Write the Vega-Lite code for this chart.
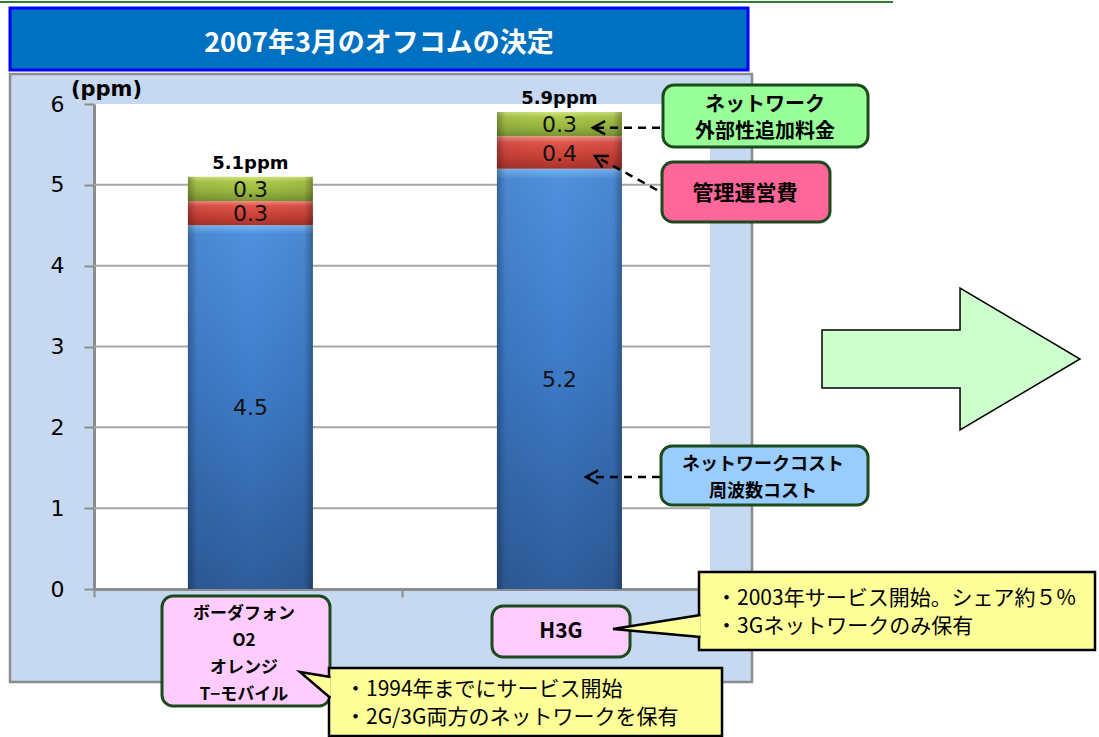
{
  "$schema": "https://vega.github.io/schema/vega-lite/v6.json",
  "width": 616,
  "height": 485,
  "autosize": {"type": "none"},
  "padding": {"left": 94, "top": 104, "right": 389, "bottom": 148},
  "background": "#C6D9F0",
  "config": {
    "view": {"stroke": null, "fill": "#FFFFFF"},
    "axis": {"grid": false},
    "locale": {"number": {"decimal": ".", "thousands": ",", "grouping": [3], "currency": ["", "ppm"]}}
  },
  "resolve": {"scale": {"x": "independent"}},
  "layer": [
    {
      "layer": [
        {
          "data": {"values": [{"x": 0, "x2": 2, "y": 0, "y2": 6}]},
          "mark": {"type": "rect", "fill": "#FFFFFF", "opacity": 0},
          "encoding": {
            "x": {
              "field": "x", "type": "quantitative", "scale": {"domain": [0, 2]},
              "axis": {"orient": "bottom", "values": [0, 1, 2], "labels": false, "title": null, "tickSize": 8, "tickColor": "#8C8C8C", "tickWidth": 2, "domainColor": "#8C8C8C", "domainWidth": 3, "grid": false}
            },
            "x2": {"field": "x2"},
            "y": {
              "field": "y", "type": "quantitative", "scale": {"domain": [0, 6]},
              "axis": {
                "title": "(ppm)", "titleAngle": 0, "titleX": 12, "titleY": -9, "titleAlign": "center", "titleBaseline": "alphabetic",
                "titleFont": "DejaVu Sans", "titleFontSize": 21, "titleFontWeight": "bold", "titleColor": "#000000",
                "values": [0, 1, 2, 3, 4, 5, 6], "format": "d", "labelFont": "DejaVu Sans", "labelFontSize": 22, "labelColor": "#000000", "labelPadding": 20,
                "tickSize": 10, "tickColor": "#8C8C8C", "tickWidth": 2, "domainColor": "#8C8C8C", "domainWidth": 3, "grid": false
              }
            },
            "y2": {"field": "y2"}
          }
        },
        {
          "data": {"values": [
            {"x": -0.3052, "x2": 3.263, "y": 7.2866, "y2": 6.3711},
            {"x": 2.1364, "x2": 3.263, "y": 7.2866, "y2": -1.8309},
            {"x": -0.3052, "x2": 3.263, "y": -1.1505, "y2": -1.8309},
            {"x": -0.3052, "x2": -0.2727, "y": 7.2866, "y2": -1.8309}
          ]},
          "mark": {"type": "rect", "fill": "#FFFFFF"},
          "encoding": {
            "x": {"field": "x", "type": "quantitative", "scale": {"domain": [0, 2]}},
            "x2": {"field": "x2"},
            "y": {"field": "y", "type": "quantitative", "scale": {"domain": [0, 6]}},
            "y2": {"field": "y2"}
          }
        },
        {
          "data": {"values": [{"x": -0.3052, "x2": 2.5942, "y": 7.262}]},
          "mark": {"type": "rule", "stroke": "#2E7D32", "strokeWidth": 2},
          "encoding": {
            "x": {"field": "x", "type": "quantitative", "scale": {"domain": [0, 2]}},
            "x2": {"field": "x2"},
            "y": {"field": "y", "type": "quantitative", "scale": {"domain": [0, 6]}}
          }
        },
        {
          "data": {"values": [{"x": -0.2727, "x2": 2.1234, "y": 7.1876, "y2": 6.4206}]},
          "mark": {"type": "rect", "fill": "#0070C0", "stroke": "#0000FF", "strokeWidth": 3},
          "encoding": {
            "x": {"field": "x", "type": "quantitative", "scale": {"domain": [0, 2]}},
            "x2": {"field": "x2"},
            "y": {"field": "y", "type": "quantitative", "scale": {"domain": [0, 6]}},
            "y2": {"field": "y2"}
          }
        },
        {
          "data": {"values": [{"x": 0.9253, "y": 6.7423, "t": "2007年3月のオフコムの決定"}]},
          "mark": {"type": "text", "font": "Noto Sans CJK JP", "fontSize": 27, "fontWeight": "bold", "color": "#FFFFFF", "align": "center", "baseline": "middle"},
          "encoding": {
            "x": {"field": "x", "type": "quantitative", "scale": {"domain": [0, 2]}},
            "y": {"field": "y", "type": "quantitative", "scale": {"domain": [0, 6]}},
            "text": {"field": "t"}
          }
        },
        {
          "data": {"values": [{"x": -0.2727, "x2": 2.1364, "y": 6.3711, "y2": -1.1505}]},
          "mark": {"type": "rect", "fill": "transparent", "stroke": "#8C8C8C", "strokeWidth": 2.5},
          "encoding": {
            "x": {"field": "x", "type": "quantitative", "scale": {"domain": [0, 2]}},
            "x2": {"field": "x2"},
            "y": {"field": "y", "type": "quantitative", "scale": {"domain": [0, 6]}},
            "y2": {"field": "y2"}
          }
        },
        {
          "data": {"values": [{"g": 1}, {"g": 2}, {"g": 3}, {"g": 4}, {"g": 5}]},
          "mark": {"type": "rule", "stroke": "#A6A6A6", "strokeWidth": 2},
          "encoding": {
            "y": {"field": "g", "type": "quantitative", "scale": {"domain": [0, 6]}},
            "x": {"datum": 0, "type": "quantitative", "scale": {"domain": [0, 2]}},
            "x2": {"datum": 2}
          }
        }
      ]
    },
    {
      "data": {"values": [
        {"operator": "ボーダフォン・O2・オレンジ・T−モバイル", "segment": "ネットワークコスト・周波数コスト", "value": 4.5},
        {"operator": "ボーダフォン・O2・オレンジ・T−モバイル", "segment": "管理運営費", "value": 0.3},
        {"operator": "ボーダフォン・O2・オレンジ・T−モバイル", "segment": "追加料金（ネットワーク外部性）", "value": 0.3},
        {"operator": "H3G", "segment": "ネットワークコスト・周波数コスト", "value": 5.2},
        {"operator": "H3G", "segment": "管理運営費", "value": 0.4},
        {"operator": "H3G", "segment": "追加料金（ネットワーク外部性）", "value": 0.3}
      ]},
      "encoding": {
        "x": {
          "field": "operator", "type": "nominal",
          "sort": ["ボーダフォン・O2・オレンジ・T−モバイル", "H3G"],
          "scale": {"paddingInner": 0.5955, "paddingOuter": 0.2945, "align": 0.516},
          "axis": null
        }
      },
      "layer": [
        {
          "mark": {"type": "bar"},
          "encoding": {
            "y": {"field": "value", "type": "quantitative", "stack": "zero", "scale": {"domain": [0, 6]}},
            "detail": {"field": "segment"},
            "order": {"field": "segment", "type": "ordinal", "sort": "ascending"},
            "fill": {
              "condition": [
                {"test": "datum.segment === '管理運営費'", "value": {"gradient": "linear", "x1": 0, "y1": 0, "x2": 0, "y2": 1, "stops": [{"offset": 0, "color": "#F49085"}, {"offset": 0.2, "color": "#E0544A"}, {"offset": 0.6, "color": "#CC4238"}, {"offset": 1, "color": "#A8342C"}]}},
                {"test": "datum.segment === '追加料金（ネットワーク外部性）'", "value": {"gradient": "linear", "x1": 0, "y1": 0, "x2": 0, "y2": 1, "stops": [{"offset": 0, "color": "#D2E67C"}, {"offset": 0.2, "color": "#AECB4E"}, {"offset": 0.6, "color": "#9AB840"}, {"offset": 1, "color": "#7A9534"}]}}
              ],
              "value": {"gradient": "linear", "x1": 0, "y1": 0, "x2": 0, "y2": 1, "stops": [{"offset": 0, "color": "#78B8F5"}, {"offset": 0.025, "color": "#4E90DD"}, {"offset": 0.45, "color": "#3E7CCA"}, {"offset": 1, "color": "#2E5D9B"}]}
            }
          }
        },
        {
          "mark": {"type": "bar", "fill": {"gradient": "linear", "x1": 0, "y1": 0, "x2": 1, "y2": 0, "stops": [{"offset": 0, "color": "rgba(0,0,0,0.30)"}, {"offset": 0.07, "color": "rgba(0,0,0,0.06)"}, {"offset": 0.5, "color": "rgba(0,0,0,0)"}, {"offset": 0.93, "color": "rgba(0,0,0,0.06)"}, {"offset": 1, "color": "rgba(0,0,0,0.32)"}]}},
          "encoding": {
            "y": {"field": "value", "type": "quantitative", "stack": "zero", "scale": {"domain": [0, 6]}},
            "detail": {"field": "segment"},
            "order": {"field": "segment", "type": "ordinal", "sort": "ascending"}
          }
        },
        {
          "mark": {"type": "text", "font": "DejaVu Sans", "fontSize": 22, "color": "#111111", "align": "center", "baseline": "middle", "dy": 1},
          "encoding": {
            "y": {"field": "value", "type": "quantitative", "stack": "zero", "bandPosition": 0.5, "scale": {"domain": [0, 6]}},
            "detail": {"field": "segment"},
            "order": {"field": "segment", "type": "ordinal", "sort": "ascending"},
            "text": {"field": "value", "type": "quantitative", "format": ".1f"}
          }
        },
        {
          "transform": [{"aggregate": [{"op": "sum", "field": "value", "as": "total"}], "groupby": ["operator"]}],
          "mark": {"type": "text", "font": "DejaVu Sans", "fontSize": 18, "fontWeight": "bold", "color": "#000000", "align": "center", "baseline": "alphabetic", "dy": -8},
          "encoding": {
            "y": {"field": "total", "type": "quantitative", "scale": {"domain": [0, 6]}},
            "text": {"field": "total", "type": "quantitative", "format": "$.1f"}
          }
        }
      ]
    },
    {
      "layer": [
        {
          "data": {"values": [
            {"x": 1.8377, "x2": 1.6201, "y": 5.7068, "y2": 5.7068},
            {"x": 1.8279, "x2": 1.6266, "y": 4.9361, "y2": 5.3567},
            {"x": 1.8377, "x2": 1.5974, "y": 1.3856, "y2": 1.3856}
          ]},
          "mark": {"type": "rule", "stroke": "#000000", "strokeWidth": 2.5, "strokeDash": [8, 6]},
          "encoding": {
            "x": {"field": "x", "type": "quantitative", "scale": {"domain": [0, 2]}, "axis": null},
            "x2": {"field": "x2"},
            "y": {"field": "y", "type": "quantitative", "scale": {"domain": [0, 6]}},
            "y2": {"field": "y2"}
          }
        },
        {
          "data": {"values": [{"x": 1.6201, "y": 5.7068}, {"x": 1.5974, "y": 1.3856}]},
          "mark": {"type": "point", "shape": "M 1.1 -0.6 L 0 0 L 1.1 0.6", "size": 484, "filled": false, "stroke": "#000000", "strokeWidth": 2.5, "opacity": 1},
          "encoding": {
            "x": {"field": "x", "type": "quantitative", "scale": {"domain": [0, 2]}, "axis": null},
            "y": {"field": "y", "type": "quantitative", "scale": {"domain": [0, 6]}}
          }
        },
        {
          "data": {"values": [{"x": 1.6266, "y": 5.3567}]},
          "mark": {"type": "point", "shape": "M 1.1 -0.6 L 0 0 L 1.1 0.6", "size": 484, "angle": 29, "filled": false, "stroke": "#000000", "strokeWidth": 2.5, "opacity": 1},
          "encoding": {
            "x": {"field": "x", "type": "quantitative", "scale": {"domain": [0, 2]}, "axis": null},
            "y": {"field": "y", "type": "quantitative", "scale": {"domain": [0, 6]}}
          }
        },
        {
          "data": {"values": [
            {"kind": "外部性追加料金", "x": 1.8474, "x2": 2.513, "y": 6.2351, "y2": 5.468},
            {"kind": "管理運営費", "x": 1.8442, "x2": 2.3896, "y": 5.2825, "y2": 4.5402},
            {"kind": "ネットワークコスト", "x": 1.8409, "x2": 2.513, "y": 1.7691, "y2": 1.0392},
            {"kind": "事業者", "x": 0.2208, "x2": 0.7662, "y": -0.0866, "y2": -1.4474},
            {"kind": "事業者", "x": 1.2922, "x2": 1.7403, "y": -0.2103, "y2": -0.8412}
          ]},
          "mark": {"type": "rect", "cornerRadius": 11, "stroke": "#1D4A1D", "strokeWidth": 3},
          "encoding": {
            "x": {"field": "x", "type": "quantitative", "scale": {"domain": [0, 2]}, "axis": null},
            "x2": {"field": "x2"},
            "y": {"field": "y", "type": "quantitative", "scale": {"domain": [0, 6]}},
            "y2": {"field": "y2"},
            "fill": {
              "field": "kind", "type": "nominal", "legend": null,
              "scale": {"domain": ["外部性追加料金", "管理運営費", "ネットワークコスト", "事業者"], "range": ["#99FF99", "#FF6699", "#99CCFF", "#FFCCFF"]}
            }
          }
        },
        {
          "data": {"values": [
            {"t": "ネットワーク\n外部性追加料金", "x": 2.1786, "y": 5.9938},
            {"t": "管理運営費", "x": 2.1136, "y": 4.8866},
            {"t": "ネットワークコスト\n周波数コスト", "x": 2.1721, "y": 1.534},
            {"t": "ボーダフォン\nO2\nオレンジ\nT−モバイル", "x": 0.487, "y": -0.3093},
            {"t": "H3G", "x": 1.5162, "y": -0.532}
          ]},
          "mark": {"type": "text", "font": "Noto Sans CJK JP", "fontWeight": "bold", "color": "#000000", "align": "center", "baseline": "middle", "lineBreak": "\n", "lineHeight": 27},
          "encoding": {
            "x": {"field": "x", "type": "quantitative", "scale": {"domain": [0, 2]}, "axis": null},
            "y": {"field": "y", "type": "quantitative", "scale": {"domain": [0, 6]}},
            "text": {"field": "t"},
            "size": {"condition": [{"test": "datum.t === '管理運営費'", "value": 21}, {"test": "datum.t === 'H3G'", "value": 21}, {"test": "datum.x < 1", "value": 17}, {"test": "datum.y > 5", "value": 20}], "value": 18}
          }
        },
        {
          "data": {"values": [
            {"x": 1.9643, "x2": 3.25, "y": 0.2103, "y2": -0.7546},
            {"x": 0.763, "x2": 2.039, "y": -0.9773, "y2": -1.8186}
          ]},
          "mark": {"type": "rect", "fill": "#FFFF99", "stroke": "#000000", "strokeWidth": 2.5},
          "encoding": {
            "x": {"field": "x", "type": "quantitative", "scale": {"domain": [0, 2]}, "axis": null},
            "x2": {"field": "x2"},
            "y": {"field": "y", "type": "quantitative", "scale": {"domain": [0, 6]}},
            "y2": {"field": "y2"}
          }
        },
        {
          "data": {"values": [
            {"id": 1, "v": 1, "x": 1.9692, "y": -0.3217},
            {"id": 1, "v": 2, "x": 1.6851, "y": -0.4948},
            {"id": 1, "v": 3, "x": 1.9692, "y": -0.5938},
            {"id": 2, "v": 1, "x": 0.7679, "y": -1.0887},
            {"id": 2, "v": 2, "x": 0.6688, "y": -1.0268},
            {"id": 2, "v": 3, "x": 0.7679, "y": -1.3485}
          ]},
          "mark": {"type": "line", "fill": "#FFFF99", "stroke": "#000000", "strokeWidth": 2.5, "strokeJoin": "miter"},
          "encoding": {
            "x": {"field": "x", "type": "quantitative", "scale": {"domain": [0, 2]}, "axis": null},
            "y": {"field": "y", "type": "quantitative", "scale": {"domain": [0, 6]}},
            "detail": {"field": "id"},
            "order": {"field": "v", "type": "quantitative"}
          }
        },
        {
          "data": {"values": [
            {"t": "・2003年サービス開始。シェア約５%\n・3Gネットワークのみ保有", "x": 2.0195, "y": -0.1237},
            {"t": "・1994年までにサービス開始\n・2G/3G両方のネットワークを保有", "x": 0.8149, "y": -1.2495}
          ]},
          "mark": {"type": "text", "font": "Noto Sans CJK JP", "fontSize": 21, "color": "#000000", "align": "left", "baseline": "middle", "lineBreak": "\n", "lineHeight": 28},
          "encoding": {
            "x": {"field": "x", "type": "quantitative", "scale": {"domain": [0, 2]}, "axis": null},
            "y": {"field": "y", "type": "quantitative", "scale": {"domain": [0, 6]}},
            "text": {"field": "t"}
          }
        },
        {
          "data": {"values": [{"x": 2.7825, "y": 2.8454}]},
          "mark": {"type": "point", "shape": "M -1 -0.225 L 0.07 -0.225 L 0.07 -0.55 L 1 0 L 0.07 0.55 L 0.07 0.225 L -1 0.225 Z", "size": 66564, "filled": true, "fill": "#CCFFCC", "stroke": "#000000", "strokeWidth": 1.5, "opacity": 1},
          "encoding": {
            "x": {"field": "x", "type": "quantitative", "scale": {"domain": [0, 2]}, "axis": null},
            "y": {"field": "y", "type": "quantitative", "scale": {"domain": [0, 6]}}
          }
        }
      ]
    }
  ]
}
